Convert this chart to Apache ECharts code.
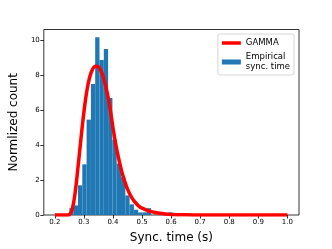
<!DOCTYPE html>
<html><head><meta charset="utf-8">
<script src="https://cdn.jsdelivr.net/npm/echarts@6/dist/echarts.min.js"></script>
<style>html,body{margin:0;padding:0;background:#fff}#c{width:332px;height:249px}</style>
</head><body><div id="c"></div>
<script>
// Histogram bins (left/right edges) and normalized counts
const binEdges = [0.2500,0.2648,0.2796,0.2944,0.3092,0.3240,0.3388,0.3536,0.3684,0.3832,0.3980,0.4128,0.4276,0.4424,0.4572,0.4720,0.4868,0.5016,0.5164,0.5312,0.5460,0.5608,0.5756,0.5904,0.6052];
const histCounts = [0.39,0.55,1.7,2.9,5.46,7.5,10.17,8.87,9.51,6.70,4.30,2.94,2.16,1.12,0.61,0.30,0.15,0.15,0.39,0,0,0,0,0.15];
// Fitted GAMMA curve
const curveX = [0.20,0.24,0.25,0.26,0.27,0.28,0.29,0.30,0.31,0.32,0.33,0.34,0.35,0.36,0.37,0.38,0.39,0.40,0.41,0.42,0.43,0.44,0.45,0.46,0.47,0.48,0.49,0.50,0.52,0.54,0.56,0.58,0.60,0.65,0.70,0.80,0.90,1.00];
const curveY = [0,0,0.03,0.35,1.3,2.8,4.4,5.9,7.1,7.9,8.35,8.52,8.48,8.2,7.7,7.0,6.1,5.0,4.0,3.2,2.5,1.95,1.48,1.13,0.86,0.66,0.50,0.39,0.25,0.16,0.10,0.06,0.035,0.01,0,0,0,0];
const xTicks = [0.2,0.3,0.4,0.5,0.6,0.7,0.8,0.9,1.0];
const yTicks = [0,2,4,6,8,10];

const histData = histCounts.map((v,i)=>[binEdges[i], binEdges[i+1], v]);
const lineData = curveX.map((x,i)=>[x, curveY[i]]);

const chart = echarts.init(document.getElementById('c'), null, {renderer:'canvas'});
const font = 'DejaVu Sans';
chart.setOption({
  animation:false,
  backgroundColor:'#fff',
  grid:{left:41.5, right:33, top:29.5, bottom:28, show:true, borderColor:'#000', borderWidth:0.8, backgroundColor:'transparent'},
  legend:{
    orient:'vertical', right:38, top:34, itemWidth:19, itemHeight:5, itemGap:4,
    padding:[4,4,3,4], borderColor:'#ccc', borderWidth:0.8, borderRadius:2,
    backgroundColor:'rgba(255,255,255,0.85)',
    textStyle:{fontSize:8.5, color:'#000', fontFamily:font, lineHeight:10},
    data:[{name:'GAMMA', icon:'path://M0,0H19V3.5H0Z'},{name:'Empirical\nsync. time', icon:'rect'}]
  },
  xAxis:{
    type:'value', min:0.162, max:1.04,
    name:'Sync. time (s)', nameLocation:'middle', nameGap:17,
    nameTextStyle:{fontSize:12, color:'#000', fontFamily:font},
    axisLine:{show:false},
    axisTick:{show:true, inside:false, length:3.5, lineStyle:{color:'#000', width:0.8}, customValues:xTicks},
    axisLabel:{show:true, fontSize:7, color:'#000', fontFamily:font, margin:4, customValues:xTicks, formatter:v=>v.toFixed(1)},
    splitLine:{show:false}
  },
  yAxis:{
    type:'value', min:0, max:10.62,
    name:'Normlized count', nameLocation:'middle', nameGap:16,
    nameTextStyle:{fontSize:12, color:'#000', fontFamily:font},
    axisLine:{show:false},
    axisTick:{show:true, inside:false, length:3.5, lineStyle:{color:'#000', width:0.8}, customValues:yTicks},
    axisLabel:{show:true, fontSize:7, color:'#000', fontFamily:font, margin:4, customValues:yTicks},
    splitLine:{show:false}
  },
  series:[
    {
      name:'Empirical\nsync. time', type:'custom', z:2,
      itemStyle:{color:'#1f77b4'},
      encode:{x:[0,1], y:2},
      data:histData,
      renderItem:function(params, api){
        const p0 = api.coord([api.value(0), api.value(2)]);
        const p1 = api.coord([api.value(1), 0]);
        return {type:'rect', shape:{x:p0[0], y:p0[1], width:p1[0]-p0[0], height:p1[1]-p0[1]},
                style:{fill:'#1f77b4'}};
      }
    },
    {
      name:'GAMMA', type:'line', z:3, symbol:'none', smooth:0.4,
      lineStyle:{color:'#ff0000', width:3.5},
      itemStyle:{color:'#ff0000'},
      data:lineData
    }
  ]
});
</script></body></html>
